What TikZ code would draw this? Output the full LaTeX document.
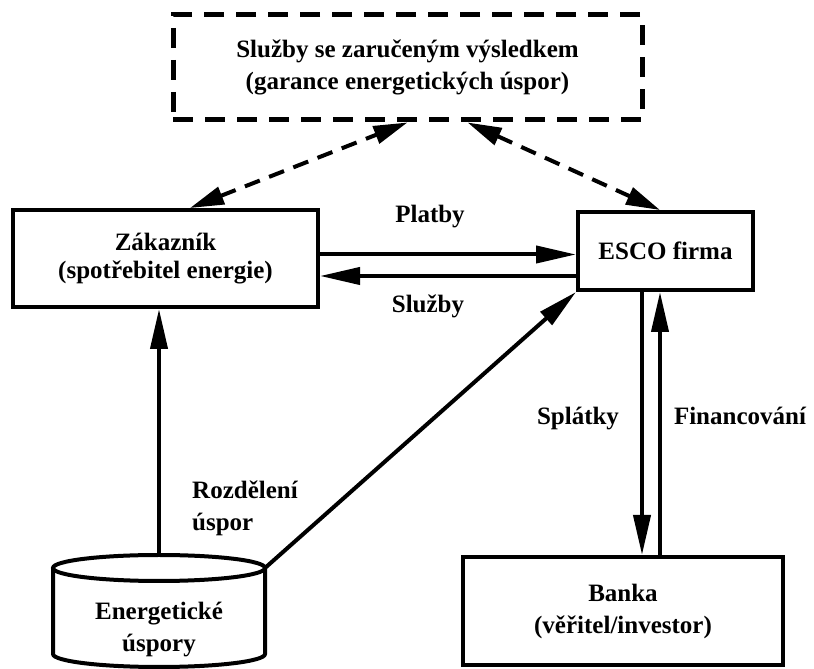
\documentclass[tikz,border=0pt]{standalone}
\usepackage{fontspec}
\setmainfont{Liberation Serif}
\usetikzlibrary{arrows.meta}

\begin{document}
\begin{tikzpicture}[x=1pt, y=1pt]
  \tikzstyle{txt}=[font=\fontsize{25}{32}\selectfont\bfseries, align=center, inner sep=0pt]
  \tikzstyle{box}=[txt, draw, line width=4pt]
  \tikzstyle{lab}=[txt, anchor=base]
  \tikzstyle{arr}=[line width=4pt, -{Triangle[length=40pt, width=17pt]}]
  \tikzstyle{darr}=[line width=4pt, dash pattern=on 16pt off 10pt,
    {Triangle[length=34pt, width=18pt]}-{Triangle[length=34pt, width=18pt]}]

  \useasboundingbox (0,0) rectangle (814,669);

  % garance uspor, carkovany ramecek
  \node[box, line width=5pt, dash pattern=on 20pt off 12pt, minimum width=469pt, minimum height=105pt]
    (gar) at (407.5,601.5) {Služby se zaručeným výsledkem\\(garance energetických úspor)};

  % zakaznik a ESCO
  \node[box, font=\fontsize{25}{28}\selectfont\bfseries, minimum width=305pt, minimum height=97pt]
    (cust) at (165.5,410.5) {Zákazník\\(spotřebitel energie)};
  \node[box, minimum width=175pt, minimum height=78pt] (esco) at (665.5,418) {ESCO firma};

  % banka
  \node[box, minimum width=320pt, minimum height=108pt] (bank) at (623,58) {Banka\\(věřitel/investor)};

  % valec s usporami
  \draw[line width=4pt] (159,101) ellipse [x radius=106, y radius=13];
  \draw[line width=4pt] (53,101) -- (53,15) arc[start angle=180, end angle=360, x radius=106, y radius=13] -- (265,101);
  \node[txt] (save) at (159,39) {Energetické\\úspory};
  \coordinate (savetop) at (159,114);
  \coordinate (saveright) at (265,101);

  % obousmerne carkovane sipky
  \draw[darr] ([xshift=24.5pt]cust.north) -- (gar.south);
  \draw[darr] ([xshift=60pt]gar.south) -- ([xshift=-5.5pt]esco.north);

  % platby a sluzby
  \draw[arr] ([yshift=4pt]cust.east) -- ([yshift=4pt]cust.east -| esco.west);
  \draw[arr] ([yshift=-17.5pt]cust.east -| esco.west) -- ([yshift=-17.5pt]cust.east);
  \node[lab] (platby) at (430,446) {Platby};
  \node[lab] (sluzby) at (428,356) {Služby};

  % rozdeleni uspor
  \draw[arr] (savetop) -- (savetop |- cust.south);
  \draw[arr] (saveright) -- (esco.south west);
  \node[txt, align=left, anchor=west] (rozd) at (192,161) {Rozdělení\\úspor};

  % splatky a financovani
  \draw[arr] ([xshift=-23.5pt]esco.south) -- ([xshift=-23.5pt]esco.south |- bank.north);
  \draw[arr] ([xshift=-5.5pt]esco.south |- bank.north) -- ([xshift=-5.5pt]esco.south);
  \node[lab] (splatky) at (578,244) {Splátky};
  \node[lab] (fin) at (740,244) {Financování};
\end{tikzpicture}
\end{document}
